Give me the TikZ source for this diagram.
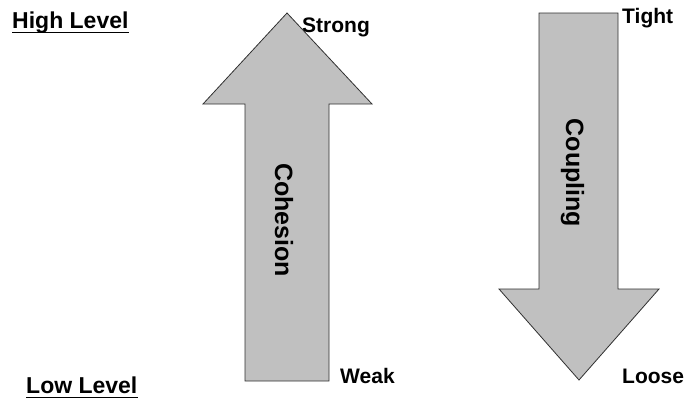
\documentclass[tikz,border=0pt]{standalone}
\usepackage{fontspec}
\setmainfont{Liberation Sans}
\usepackage{xcolor}
\usetikzlibrary{positioning}
\definecolor{arrowgray}{HTML}{C0C0C0}
\definecolor{edgegray}{HTML}{303030}
\tikzset{
  bigarrow/.style={
    draw=edgegray,fill=arrowgray,line width=.8pt,line join=miter
  },
  endlabel/.style={
    inner sep=0pt,anchor=base west,
    font=\fontsize{21}{24}\selectfont\bfseries
  },
  levellabel/.style={
    inner sep=0pt,anchor=base west,
    font=\fontsize{23}{26}\selectfont\bfseries
  },
  arrowtext/.style={
    inner sep=0pt,anchor=base,rotate=-90,
    font=\fontsize{25}{28}\selectfont\bfseries
  },
  underline/.style={line width=1.8pt}
}
\begin{document}
\begin{tikzpicture}[x=1pt,y=-1pt]
\useasboundingbox (0,0) rectangle (684,399);

% cohesion arrow, pointing up
\draw[bigarrow] (287,13) -- (372,104) -- (329,104) -- (329,381)
  -- (245,381) -- (245,104) -- (203,104) -- cycle;
% coupling arrow, pointing down
\draw[bigarrow] (539,13) -- (618,13) -- (618,289) -- (659,289)
  -- (579,380) -- (499,289) -- (539,289) -- cycle;

\node[arrowtext] (coh) at (275,220) {Cohesion};
\node[arrowtext] (coup) at (566,173) {Coupling};

\node[endlabel] (strong) at (302,32) {Strong};
\node[endlabel] (weak) at (340,383) {Weak};
\node[endlabel] (tight) at (622,23) {Tight};
\node[endlabel] (loose) at (622,383) {Loose};

\node[levellabel] (high) at (12,28) {High Level};
\node[levellabel] (low) at (26,393) {Low Level};
\draw[underline] ([yshift=-4.5pt]high.base west) -- ([yshift=-4.5pt]high.base east);
\draw[underline] ([yshift=-4.5pt]low.base west) -- ([yshift=-4.5pt]low.base east);
\end{tikzpicture}
\end{document}
